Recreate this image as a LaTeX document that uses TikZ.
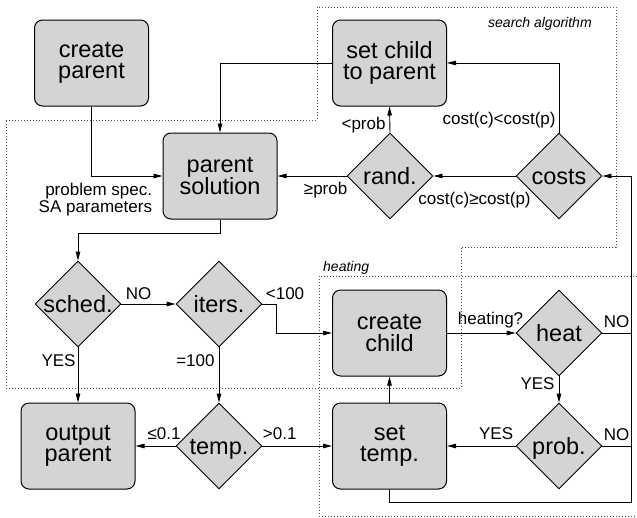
\documentclass[tikz,border=0pt]{standalone}
\usepackage{fontspec}
\setmainfont{Liberation Sans}
\usetikzlibrary{shapes.geometric,arrows.meta}
\newcommand\boxfont{\fontsize{23.5}{21.5}\selectfont}
\newcommand\lblfont{\fontsize{17}{17}\selectfont}
\newcommand\areafont{\fontsize{14}{14}\selectfont\itshape}
\definecolor{boxfill}{RGB}{212,212,212}
\begin{document}
\begin{tikzpicture}[x=1pt,y=-1pt,
  stepbox/.style={draw, fill=boxfill, rounded corners=8pt, minimum width=114pt,
    minimum height=86pt, align=center, font=\boxfont, inner sep=0pt, line width=1pt},
  test/.style={draw, fill=boxfill, diamond, aspect=1, minimum width=86pt,
    minimum height=86pt, inner sep=0pt, font=\boxfont, text height=16.8pt,
    text depth=0pt, line width=0.9pt},
  arr/.style={-{Triangle[length=9pt,width=4.5pt]}, line width=0.9pt},
  line/.style={line width=0.9pt},
  lb/.style={font=\lblfont, inner sep=0pt},
  area/.style={dash pattern=on 1pt off 2pt, line width=1pt, black!70},
  areaname/.style={font=\areafont, inner sep=0pt, anchor=base west},
]
\useasboundingbox (0,0) rectangle (637,517);

% dotted outlines of the two sub-processes
\draw[area] (6,120) -- (317,120) -- (317,7) -- (616,7) -- (616,247)
  -- (461,247) -- (461,388) -- (6,388) -- cycle;
\draw[area] (637,276) -- (319,276) -- (319,516) -- (637,516);
\node[areaname] (searchname) at (488,27) {search algorithm};
\node[areaname] (heatname) at (323,271) {heating};

% process steps
\node[stepbox] (cp) at (91.5,63)  {create\\parent};
\node[stepbox] (sc) at (389.5,63) {set child\\to parent};
\node[stepbox] (ps) at (220,176)  {parent\\solution};
\node[stepbox] (cc) at (389.5,333) {create\\child};
\node[stepbox] (op) at (78,446)   {output\\parent};
\node[stepbox] (st) at (389.5,446) {set\\temp.};

% decisions
\node[test] (rd) at (390,176) {\makebox[0pt]{rand.}};
\node[test] (co) at (559,176) {\makebox[0pt]{costs}};
\node[test] (sd) at (78,304)  {\makebox[0pt]{sched.}};
\node[test] (it) at (219,304) {\makebox[0pt]{iters.}};
\node[test] (ht) at (559,333) {\makebox[0pt]{heat}};
\node[test] (tp) at (219,446) {\makebox[0pt]{temp.}};
\node[test] (pb) at (559,446) {\makebox[0pt]{prob.}};

% return bus on the right
\coordinate (busT) at (631,176);
\coordinate (busB) at (631,502);

% connectors
\draw[arr] (cp.south) |- (ps.west)
  node[lb, align=right, anchor=north east, xshift=-10pt, yshift=-7pt]
  {problem spec.\\SA parameters};
\draw[arr] (sc.west) -| (ps.north);
\draw[arr] (rd.west) -- (ps.east)
  node[lb, anchor=base west, xshift=26pt, yshift=-18pt] {≥prob};
\draw[arr] (rd.north) node[lb, anchor=base east, xshift=-4pt, yshift=3pt] {<prob}
  -- (sc.south);
\draw[arr] (co.west) -- (rd.east)
  node[lb, anchor=base, midway, yshift=-28pt] {cost(c)≥cost(p)};
\draw[arr] (co.north) node[lb, anchor=base east, xshift=-3pt, yshift=8pt] {cost(c)<cost(p)}
  |- (sc.east);
\draw[arr] (ps.south) -- ++(0,14) -| (sd.north);
\draw[arr] (sd.east) node[lb, anchor=base west, xshift=4pt, yshift=5pt] {NO}
  -- (it.west);
\draw[arr] (sd.south) node[lb, anchor=base east, xshift=-2pt, yshift=-19.5pt] {YES}
  -- (op.north);
\draw[arr] (it.east) node[lb, anchor=base west, xshift=3pt, yshift=5pt] {<100}
  -- ++(14,0) |- (cc.west);
\draw[arr] (it.south) node[lb, anchor=base east, xshift=-4pt, yshift=-19.5pt] {=100}
  -- (tp.north);
\draw[arr] (tp.west) node[lb, anchor=base east, xshift=5.5pt, yshift=7pt] {≤0.1}
  -- (op.east);
\draw[arr] (tp.east) node[lb, anchor=base west, yshift=7pt] {>0.1}
  -- (st.west);
\draw[arr] (cc.east) node[lb, anchor=base west, xshift=10.5pt, yshift=8.5pt] {heating?}
  -- (ht.west);
\draw[arr] (ht.south) node[lb, anchor=base east, xshift=-4pt, yshift=-13.5pt] {YES}
  -- (pb.north);
\draw[arr] (pb.west) node[lb, anchor=base east, xshift=-2pt, yshift=7pt] {YES}
  -- (st.east);
\draw[arr] (st.north) -- (cc.south);
\draw[line] (ht.east) node[lb, anchor=base west, xshift=1pt, yshift=5.5pt] {NO}
  -- (ht.east -| busT);
\draw[line] (pb.east) node[lb, anchor=base west, xshift=1pt, yshift=6pt] {NO}
  -- (pb.east -| busT);
\draw[arr] (st.south) |- (busB) -- (busT) -- (co.east);
\end{tikzpicture}
\end{document}
